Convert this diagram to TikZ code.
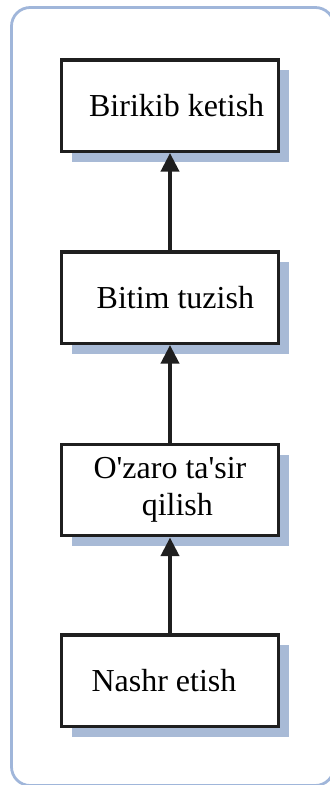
\documentclass[tikz,border=0pt]{standalone}
\usepackage{fontspec}
\setmainfont{Liberation Serif}
\usetikzlibrary{arrows.meta,shadows,positioning}

\definecolor{framebl}{RGB}{160,182,218}
\definecolor{shadebl}{RGB}{168,186,214}

\tikzset{
  stagebox/.style={draw=black!88, line width=2.6pt, fill=white,
    minimum width=162.4pt, minimum height=68.6pt, inner sep=0pt,
    align=center, font=\fontsize{24}{28}\selectfont,
    drop shadow={shadow xshift=8pt, shadow yshift=-8pt, fill=shadebl, opacity=1}},
  uparrow/.style={-{Triangle[width=13.5pt,length=14pt]}, line width=3pt, draw=black!88}
}

\begin{document}
\begin{tikzpicture}[x=0.75pt, y=-0.75pt]
      \useasboundingbox (0,0) rectangle (329,785);

      % Frame
      \draw[framebl, line width=2.1pt, rounded corners=14pt]
      (11.5,7.5) rectangle (334,785.5);

      % Boxes
      \node[stagebox] (birikib) at (170,105.5) {\hspace*{10pt}Birikib ketish};
      \node[stagebox] (bitim) at (170,297.5) {\hspace*{8pt}Bitim tuzish};
      \node[stagebox] (ozaro) at (170,490)
      {O\textquotesingle zaro ta\textquotesingle sir\\\hspace*{11pt}qilish};
      \node[stagebox] (nashr) at (170,680.5) {Nashr etish\hspace*{9pt}};

      % Arcs
      \draw[uparrow] (nashr.north) -- (ozaro.south);
      \draw[uparrow] (ozaro.north) -- (bitim.south);
      \draw[uparrow] (bitim.north) -- (birikib.south);
    \end{tikzpicture}
\end{document}
